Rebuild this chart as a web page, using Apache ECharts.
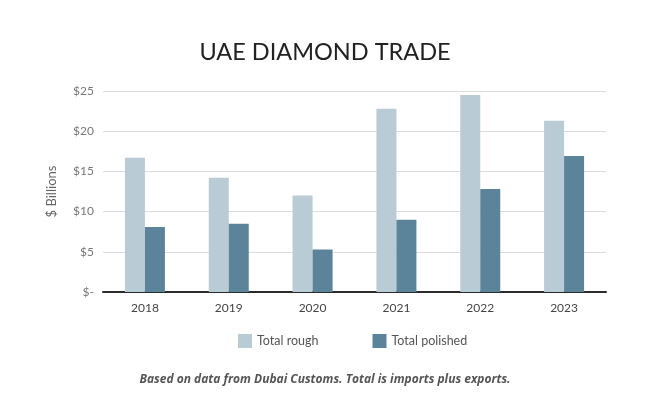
<!DOCTYPE html>
<html>
<head>
<meta charset="utf-8">
<script src="https://cdn.jsdelivr.net/npm/echarts@6/dist/echarts.min.js"></script>
<style>
  html, body { margin: 0; padding: 0; background: #fff; }
  #chart { width: 650px; height: 398px; }
</style>
</head>
<body>
<div id="chart"></div>
<script>
const years = ['2018', '2019', '2020', '2021', '2022', '2023']
const totalRough = [16.7, 14.2, 12.0, 22.8, 24.5, 21.3]
const totalPolished = [8.1, 8.5, 5.3, 9.0, 12.8, 16.9]

const chart = echarts.init(document.getElementById('chart'))

chart.setOption({
  animation: false,
  title: [
    {
      text: 'UAE DIAMOND TRADE',
      left: 'center',
      top: 35,
      textStyle: { fontFamily: 'Lato', fontWeight: 'normal', fontSize: 23.5, color: '#222' }
    },
    {
      text: 'Based on data from Dubai Customs. Total is imports plus exports.',
      left: 'center',
      top: 369,
      textStyle: { fontFamily: 'Open Sans', fontStyle: 'italic', fontWeight: 'bold', fontSize: 12, color: '#555' }
    }
  ],
  legend: {
    data: ['Total rough', 'Total polished'],
    top: 329,
    left: 233,
    itemWidth: 14,
    itemHeight: 14,
    itemGap: 54,
    icon: 'rect',
    textStyle: { fontFamily: 'Lato', fontSize: 12.5, color: '#555' }
  },
  grid: { left: 103, right: 44, top: 91, bottom: 106 },
  xAxis: {
    type: 'category',
    data: years,
    axisLine: { lineStyle: { color: '#2b2b2b', width: 2 } },
    axisTick: { show: false },
    axisLabel: { fontFamily: 'Lato', fontSize: 12, color: '#444', margin: 10 }
  },
  yAxis: {
    type: 'value',
    min: 0,
    max: 25,
    interval: 5,
    name: '$ Billions',
    nameLocation: 'middle',
    nameGap: 45,
    nameTextStyle: { fontFamily: 'Lato', fontSize: 13, color: '#666' },
    axisLine: { show: false },
    axisTick: { show: false },
    axisLabel: {
      fontFamily: 'Lato',
      fontSize: 12,
      color: '#777',
      margin: 9,
      formatter: v => v === 0 ? '$-' : '$' + v
    },
    splitLine: { lineStyle: { color: '#dcdcdc', width: 1 } }
  },
  series: [
    {
      name: 'Total rough',
      type: 'bar',
      data: totalRough,
      barWidth: 20,
      barGap: '0%',
      itemStyle: { color: '#b9cbd5' }
    },
    {
      name: 'Total polished',
      type: 'bar',
      data: totalPolished,
      barWidth: 20,
      itemStyle: { color: '#5b8399' }
    }
  ]
})
</script>
</body>
</html>
